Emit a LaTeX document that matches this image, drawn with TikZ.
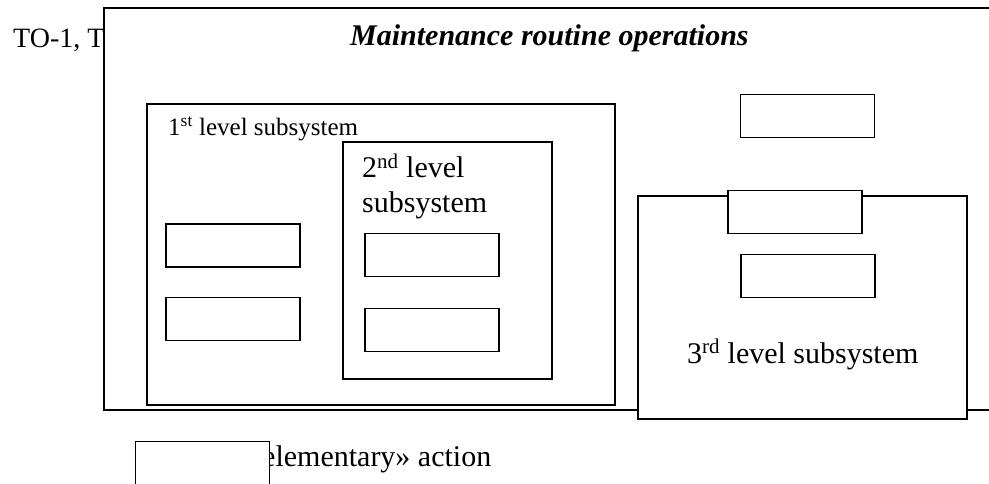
\documentclass[tikz,border=0pt]{standalone}
\usepackage{fontspec}
\setmainfont{Liberation Serif}
\begin{document}
\begin{tikzpicture}[x=1pt,y=-1pt,
    sysbox/.style={draw,fill=white,line width=1.2pt},
    actbox/.style={draw,fill=white,line width=1.2pt,minimum width=134pt,minimum height=43pt,inner sep=0pt},
    bigtext/.style={font=\fontsize{30}{35}\selectfont,inner sep=0pt,anchor=base west},
    smalltext/.style={font=\fontsize{25}{30}\selectfont,inner sep=0pt,anchor=base west}]
    \useasboundingbox (0,0) rectangle (989,484);
    \clip (0,0) rectangle (989,484);
    % text behind the main frame
    \node[bigtext,font=\fontsize{28}{33}\selectfont] (to) at (13,48) {TO-1, T};
    \draw[sysbox] (104,8) rectangle (1000,410);
    \node[bigtext,font=\fontsize{30}{35}\selectfont\bfseries\itshape] (title) at (350,46) {Maintenance routine operations};
    % 1st level
    \draw[sysbox] (147,104) rectangle (615,405);
    \node[smalltext] (l1) at (168,136) {1\textsuperscript{st} level subsystem};
    \node[actbox] (a1) at (233,245.5) {};
    \node[actbox] (a2) at (233,319) {};
    % 2nd level
    \draw[sysbox] (343,142) rectangle (552,379);
    \node[bigtext] (l2) at (362,178) {2\textsuperscript{nd} level};
    \node[bigtext] (l2b) at (362,213) {subsystem};
    \node[actbox] (b1) at (432,255) {};
    \node[actbox] (b2) at (432,330) {};
    % single action and 3rd level
    \node[actbox] (c0) at (807.5,116) {};
    \draw[sysbox] (638,196) rectangle (967,419);
    \node[actbox] (c1) at (795,212) {};
    \node[actbox] (c2) at (808,276) {};
    \node[bigtext] (l3) at (687,363) {3\textsuperscript{rd} level subsystem};
    % legend
    \node[bigtext] (leg) at (247,466) {«elementary» action};
    \node[actbox] (legbox) at (202.5,463) {};
\end{tikzpicture}
\end{document}
